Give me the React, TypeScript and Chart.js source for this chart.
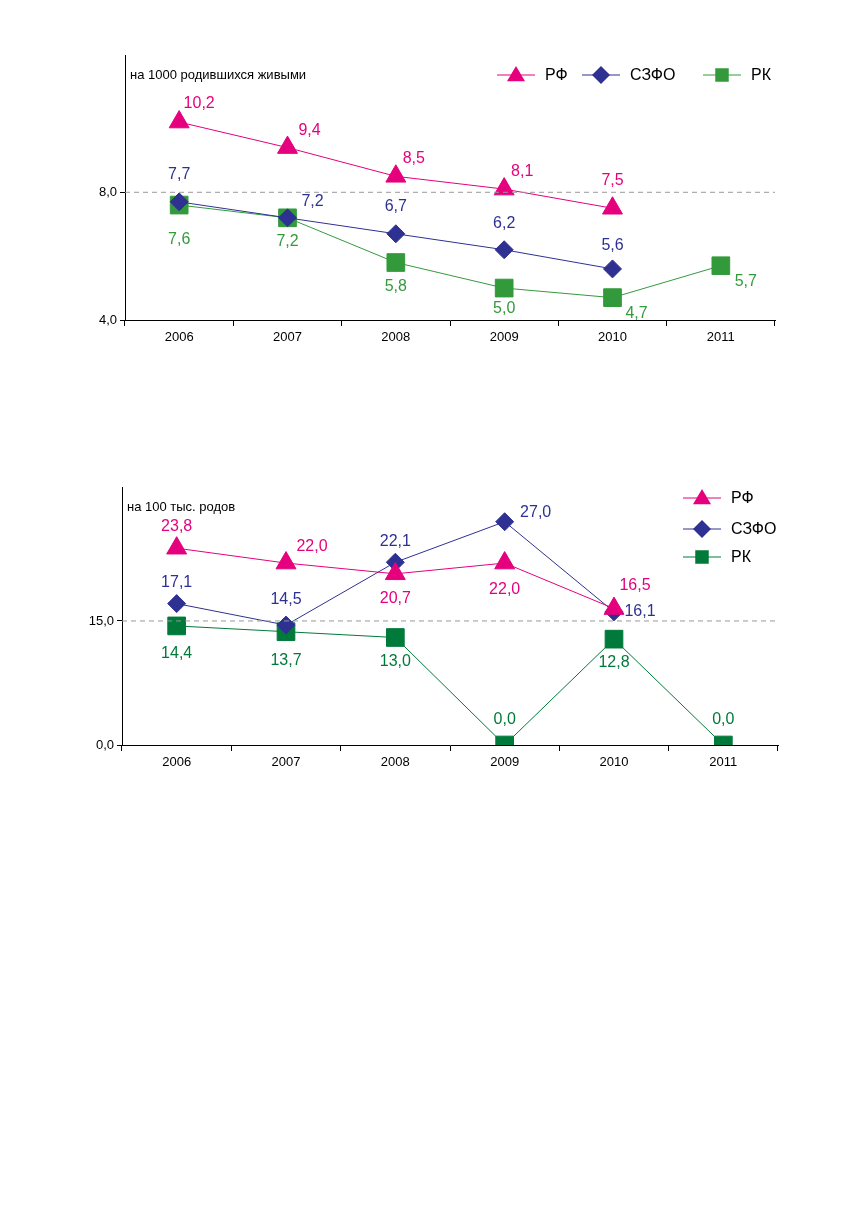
import React, { useEffect, useRef } from "react";
import { Chart, registerables } from "chart.js";
Chart.register(...registerables);

const years1 = ["2006", "2007", "2008", "2009", "2010", "2011"];
const rf1 = [10.2, 9.4, 8.5, 8.1, 7.5, null];
const szfo1 = [7.7, 7.2, 6.7, 6.2, 5.6, null];
const rk1 = [7.6, 7.2, 5.8, 5.0, 4.7, 5.7];
const yTicks1 = [4, 8];

const years2 = ["2006", "2007", "2008", "2009", "2010", "2011"];
const rf2 = [23.8, 22.0, 20.7, 22.0, 16.5, null];
const szfo2 = [17.1, 14.5, 22.1, 27.0, 16.1, null];
const rk2 = [14.4, 13.7, 13.0, 0.0, 12.8, 0.0];
const yTicks2 = [0, 15];

const names = ["РФ", "СЗФО", "РК"];
const PINK = "#e5007d";
const NAVY = "#2e3192";
const GREEN1 = "#339a3c";
const GREEN2 = "#007a3a";
const FONT = "'Liberation Sans', Arial, sans-serif";

const off1 = [
  [[20, -18], [22, -17], [18, -18], [18, -18], [0, -28]],
  [[0, -27], [25, -16], [0, -27], [0, -26], [0, -23]],
  [[0, 35], [0, 24], [0, 24], [0, 21], [24, 16], [25, 16]],
];
const off2 = [
  [[0, -22], [26, -16], [0, 25], [0, 27], [21, -23]],
  [[0, -21], [0, -26], [0, -21], [31, -9], [26, 0]],
  [[0, 28], [0, 29], [0, 24], [0, -25], [0, 23], [0, -25]],
];

function fmt(v: number) {
  return v.toFixed(1).replace(".", ",");
}

function makeChart(
  canvas: HTMLCanvasElement,
  cfg: {
    labels: string[];
    series: (number | null)[][];
    colors: string[];
    max: number;
    ticks: number[];
    dashAt: number;
    offs: number[][][];
    title: string;
    legend: { x: number; y: number }[];
    yWidth: number;
    xHeight: number;
    pad: { top: number; right: number };
  }
) {
  const styles = ["triangle", "rectRot", "rect"];
  const radii = [11.5, 9, 12.5];
  const plugin = {
    id: "custom",
    afterDraw(chart: any) {
      const ctx = chart.ctx;
      const ys = chart.scales.y;
      const area = chart.chartArea;
      ctx.save();
      const yy = ys.getPixelForValue(cfg.dashAt);
      ctx.strokeStyle = "#999";
      ctx.lineWidth = 1;
      ctx.setLineDash([5, 4]);
      ctx.beginPath();
      ctx.moveTo(area.left, yy);
      ctx.lineTo(area.right, yy);
      ctx.stroke();
      ctx.setLineDash([]);
      ctx.fillStyle = "#000";
      ctx.font = `13px ${FONT}`;
      ctx.textAlign = "left";
      ctx.textBaseline = "middle";
      ctx.fillText(cfg.title, area.left + 5, area.top + 20);
      ctx.font = `16px ${FONT}`;
      ctx.textAlign = "center";
      cfg.series.forEach((s, si) => {
        const meta = chart.getDatasetMeta(si);
        ctx.fillStyle = cfg.colors[si];
        s.forEach((v, i) => {
          if (v === null) return;
          const p = meta.data[i];
          const o = cfg.offs[si][i];
          ctx.fillText(fmt(v), p.x + o[0], p.y + o[1]);
        });
      });
      cfg.legend.forEach((l, si) => {
        ctx.strokeStyle = cfg.colors[si];
        ctx.lineWidth = 1;
        ctx.beginPath();
        ctx.moveTo(l.x, l.y);
        ctx.lineTo(l.x + 38, l.y);
        ctx.stroke();
        ctx.fillStyle = cfg.colors[si];
        const r = 9;
        const cx = l.x + 19;
        ctx.beginPath();
        if (si === 0) {
          ctx.moveTo(cx, l.y - r);
          ctx.lineTo(cx + r, l.y + r * 0.7);
          ctx.lineTo(cx - r, l.y + r * 0.7);
        } else if (si === 1) {
          ctx.moveTo(cx, l.y - r);
          ctx.lineTo(cx + r, l.y);
          ctx.lineTo(cx, l.y + r);
          ctx.lineTo(cx - r, l.y);
        } else {
          ctx.rect(cx - r * 0.75, l.y - r * 0.75, r * 1.5, r * 1.5);
        }
        ctx.closePath();
        ctx.fill();
        ctx.fillStyle = "#000";
        ctx.font = `16px ${FONT}`;
        ctx.textAlign = "left";
        ctx.fillText(names[si], l.x + 48, l.y + 1);
      });
      ctx.restore();
    },
  };
  return new Chart(canvas, {
    type: "line",
    data: {
      labels: cfg.labels,
      datasets: cfg.series.map((s, si) => ({
        label: names[si],
        data: s,
        borderColor: cfg.colors[si],
        backgroundColor: cfg.colors[si],
        borderWidth: 1,
        pointStyle: styles[si] as any,
        pointRadius: radii[si],
        pointBorderWidth: 1,
        pointBorderColor: cfg.colors[si],
        spanGaps: false,
        tension: 0,
      })),
    },
    options: {
      animation: false,
      responsive: false,
      layout: { padding: { top: cfg.pad.top, right: cfg.pad.right, left: 0, bottom: 0 } },
      plugins: { legend: { display: false }, tooltip: { enabled: false } },
      scales: {
        x: {
          offset: true,
          grid: { drawOnChartArea: false, drawTicks: true, tickLength: 6, color: "#000", offset: true },
          border: { color: "#000" },
          ticks: { color: "#000", font: { family: FONT, size: 13 }, padding: 4 },
          afterFit(s: any) {
            s.height = cfg.xHeight;
          },
        },
        y: {
          min: cfg.ticks[0],
          max: cfg.max,
          afterBuildTicks(s: any) {
            s.ticks = cfg.ticks.map((v) => ({ value: v }));
          },
          grid: { drawOnChartArea: false, drawTicks: true, tickLength: 5, color: "#000" },
          border: { color: "#000" },
          ticks: {
            color: "#000",
            font: { family: FONT, size: 13 },
            padding: 3,
            callback: (v: any) => fmt(Number(v)),
          },
          afterFit(s: any) {
            s.width = cfg.yWidth;
          },
        },
      },
    },
    plugins: [plugin],
  });
}

export default function App() {
  const r1 = useRef<HTMLCanvasElement>(null);
  const r2 = useRef<HTMLCanvasElement>(null);
  useEffect(() => {
    document.body.style.margin = "0";
    const c1 = makeChart(r1.current!, {
      labels: years1,
      series: [rf1, szfo1, rk1],
      colors: [PINK, NAVY, GREEN1],
      max: 12.3,
      ticks: yTicks1,
      dashAt: 8,
      offs: off1,
      title: "на 1000 родившихся живыми",
      legend: [
        { x: 497, y: 35 },
        { x: 582, y: 35 },
        { x: 703, y: 35 },
      ],
      yWidth: 125,
      xHeight: 30,
      pad: { top: 15, right: 81 },
    });
    const c2 = makeChart(r2.current!, {
      labels: years2,
      series: [rf2, szfo2, rk2],
      colors: [PINK, NAVY, GREEN2],
      max: 31.2,
      ticks: yTicks2,
      dashAt: 15,
      offs: off2,
      title: "на 100 тыс. родов",
      legend: [
        { x: 683, y: 38 },
        { x: 683, y: 69 },
        { x: 683, y: 97 },
      ],
      yWidth: 122,
      xHeight: 35,
      pad: { top: 27, right: 78 },
    });
    return () => {
      c1.destroy();
      c2.destroy();
    };
  }, []);
  return (
    <div style={{ position: "relative", width: 856, height: 1227, background: "#fff" }}>
      <canvas ref={r1} width={856} height={310} style={{ position: "absolute", left: 0, top: 40 }} />
      <canvas ref={r2} width={856} height={320} style={{ position: "absolute", left: 0, top: 460 }} />
    </div>
  );
}
